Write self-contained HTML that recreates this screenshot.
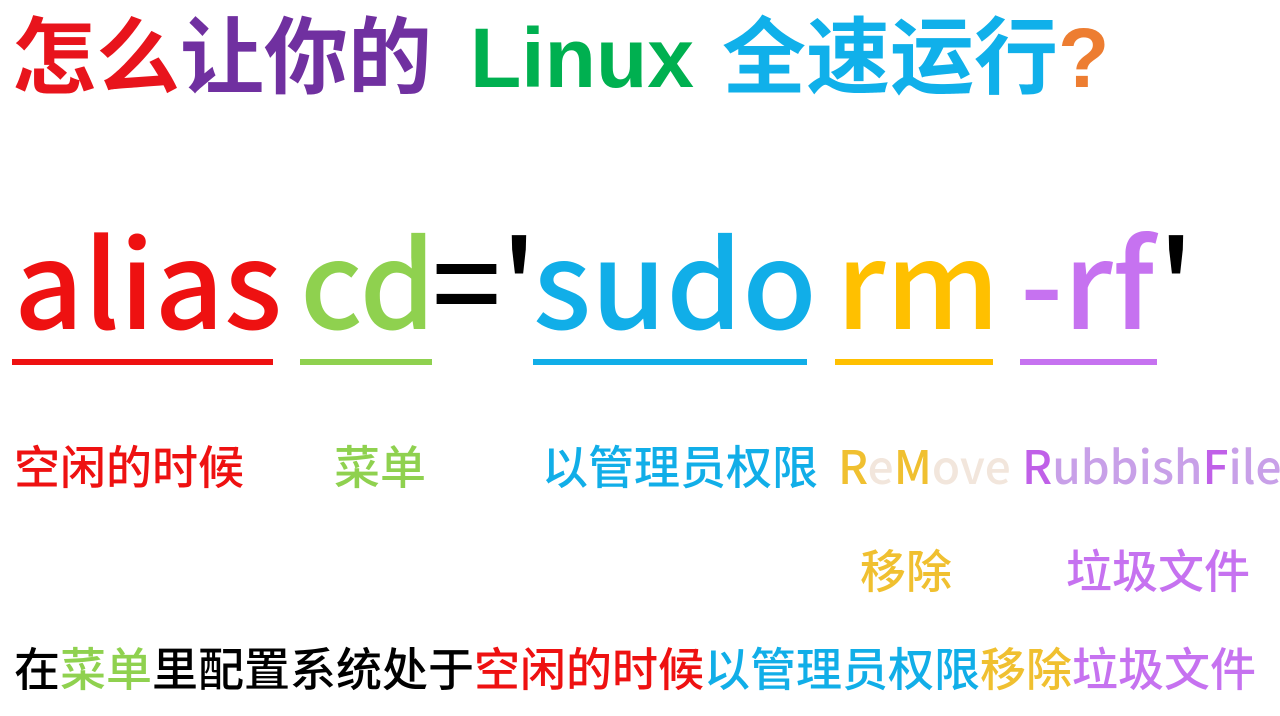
<!DOCTYPE html>
<html><head><meta charset="utf-8"><style>
html,body{margin:0;padding:0;background:#fff;width:1280px;height:716px;overflow:hidden;position:relative}
.t{position:absolute;white-space:nowrap;font-family:"Noto Sans CJK SC","Liberation Sans",sans-serif;line-height:1}
.title{font-family:"Liberation Sans","Noto Sans CJK SC",sans-serif;font-weight:bold;font-size:84px;top:16px}
.big{font-size:121px;top:216px;font-weight:500}
.u{position:absolute;height:6px;top:359px}
.lab{font-size:46px;top:442px;font-weight:500}
.lab2{font-size:46px;top:546px;font-weight:500}
.bot{font-size:46px;top:644px;left:14px;color:#000;font-weight:500}
</style></head><body>
<div class="t title" style="left:12px"><span style="color:#e8141c">怎么</span><span style="color:#7030a0">让你的</span></div>
<div class="t title" style="left:470px;color:#00b050">Linux</div>
<div class="t title" style="left:722px"><span style="color:#10b0ea">全速运行</span><span style="color:#ed7d31">?</span></div>

<div class="t big" style="left:14px;color:#ee1111">alias</div>
<div class="t big" style="left:300px;color:#8fd14f">cd</div>
<div class="t big" style="left:432px;color:#000">='</div>
<div class="t big" style="left:533px;color:#11aee8">sudo</div>
<div class="t big" style="left:836px;color:#ffc000">rm</div>
<div class="t big" style="left:1020px;color:#c672f0">-rf</div>
<div class="t big" style="left:1158px;color:#000">'</div>

<div class="u" style="left:12px;width:261px;background:#ee1111"></div>
<div class="u" style="left:300px;width:132px;background:#8fd14f"></div>
<div class="u" style="left:533px;width:274px;background:#11aee8"></div>
<div class="u" style="left:835px;width:158px;background:#ffc000"></div>
<div class="u" style="left:1020px;width:137px;background:#c672f0"></div>

<div class="t lab" style="left:14px;color:#ee1111">空闲的时候</div>
<div class="t lab" style="left:334px;color:#8fd14f">菜单</div>
<div class="t lab" style="left:542px;color:#11aee8">以管理员权限</div>
<div class="t lab" style="left:838px;color:#f0c030"><span>R</span><span style="color:#f2e6dc">e</span><span>M</span><span style="color:#f2e6dc">ove</span></div>
<div class="t lab" style="left:1022px;color:#c8a0e8"><span style="color:#c060e8">R</span>ubbish<span style="color:#c060e8">F</span>ile</div>
<div class="t lab2" style="left:860px;color:#f0c030">移除</div>
<div class="t lab2" style="left:1066px;color:#c672f0">垃圾文件</div>

<div class="t bot">在<span style="color:#8fd14f">菜单</span>里配置系统处于<span style="color:#ee1111">空闲的时候</span><span style="color:#11aee8">以管理员权限</span><span style="color:#f0c030">移除</span><span style="color:#c672f0">垃圾文件</span></div>
</body></html>
